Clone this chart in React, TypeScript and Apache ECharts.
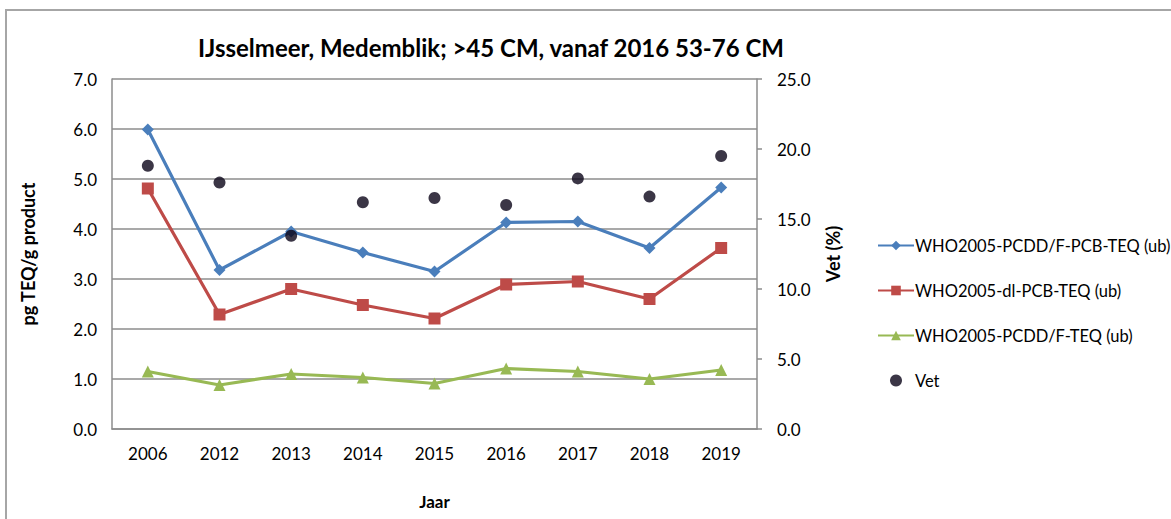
import React, { useEffect, useRef } from "react";
import * as echarts from "echarts";

const years = ["2006", "2012", "2013", "2014", "2015", "2016", "2017", "2018", "2019"];
const totalTeq = [5.99, 3.18, 3.95, 3.53, 3.15, 4.13, 4.15, 3.62, 4.83];
const dlPcbTeq = [4.81, 2.29, 2.8, 2.48, 2.21, 2.89, 2.95, 2.6, 3.62];
const pcddfTeq = [1.15, 0.88, 1.1, 1.03, 0.91, 1.21, 1.15, 1.0, 1.18];
const vet = [18.8, 17.6, 13.8, 16.2, 16.5, 16.0, 17.9, 16.6, 19.5];

const seriesNames = [
  "WHO2005-PCDD/F-PCB-TEQ (ub)",
  "WHO2005-dl-PCB-TEQ (ub)",
  "WHO2005-PCDD/F-TEQ (ub)",
  "Vet",
];
const titleText = "IJsselmeer, Medemblik; >45 CM, vanaf 2016 53-76 CM";

const FONT = "Lato, 'Open Sans', sans-serif";

export default function App() {
  const ref = useRef<HTMLDivElement>(null);
  useEffect(() => {
    if (!ref.current) return;
    const chart = echarts.init(ref.current, null, { renderer: "svg" });
    chart.setOption({
      animation: false,
      backgroundColor: "#ffffff",
      textStyle: { fontFamily: FONT, color: "#000" },
      graphic: [
        {
          type: "rect",
          shape: { x: 6, y: 10, width: 1300, height: 700 },
          style: { fill: "none", stroke: "#a6a6a6", lineWidth: 2 },
          silent: true,
        },
        {
          type: "text",
          x: 491,
          y: 47,
          style: {
            text: titleText,
            align: "center",
            verticalAlign: "middle",
            fontFamily: FONT,
            fontSize: 24,
            fontWeight: "bold",
            fill: "#000",
          },
        },
      ],
      grid: { left: 112, right: 414, top: 79, bottom: 90, containLabel: false },
      legend: {
        orient: "vertical",
        left: 872,
        top: 232,
        itemWidth: 36,
        itemHeight: 12,
        itemGap: 28,
        textStyle: { fontFamily: FONT, fontSize: 16.5, color: "#000", padding: [0, 0, 0, -4] },
        data: seriesNames,
      },
      xAxis: {
        type: "category",
        data: years,
        boundaryGap: true,
        name: "Jaar",
        nameLocation: "middle",
        nameGap: 64,
        nameTextStyle: { fontFamily: FONT, fontSize: 17, fontWeight: "bold", color: "#000" },
        axisLine: { lineStyle: { color: "#8c8c8c", width: 1.5 } },
        axisTick: { show: false },
        axisLabel: { fontFamily: FONT, fontSize: 17, color: "#000", margin: 16 },
      },
      yAxis: [
        {
          type: "value",
          min: 0,
          max: 7,
          interval: 1,
          name: "pg TEQ/g product",
          nameLocation: "middle",
          nameGap: 75,
          nameTextStyle: { fontFamily: FONT, fontSize: 18, fontWeight: "bold", color: "#000" },
          axisLine: { show: true, lineStyle: { color: "#8c8c8c", width: 1.5 } },
          axisTick: { show: false },
          splitLine: { lineStyle: { color: "#8c8c8c", width: 1.5 } },
          axisLabel: {
            fontFamily: FONT,
            fontSize: 17,
            color: "#000",
            margin: 15,
            formatter: (v: number) => v.toFixed(1),
          },
        },
        {
          type: "value",
          min: 0,
          max: 25,
          interval: 5,
          name: "Vet (%)",
          nameLocation: "middle",
          nameGap: 67,
          nameTextStyle: { fontFamily: FONT, fontSize: 18, fontWeight: "bold", color: "#000" },
          axisLine: { show: true, lineStyle: { color: "#8c8c8c", width: 1.5 } },
          axisTick: { show: true, length: 5, lineStyle: { color: "#8c8c8c", width: 1.5 } },
          splitLine: { show: false },
          axisLabel: {
            fontFamily: FONT,
            fontSize: 17,
            color: "#000",
            margin: 20,
            formatter: (v: number) => v.toFixed(1),
          },
        },
      ],
      series: [
        {
          name: seriesNames[0],
          type: "line",
          yAxisIndex: 0,
          data: totalTeq,
          symbol: "diamond",
          symbolSize: 12,
          itemStyle: { color: "#4a7ebb" },
          lineStyle: { color: "#4a7ebb", width: 3.2 },
          z: 3,
        },
        {
          name: seriesNames[1],
          type: "line",
          yAxisIndex: 0,
          data: dlPcbTeq,
          symbol: "rect",
          symbolSize: 12,
          itemStyle: { color: "#be4b48" },
          lineStyle: { color: "#be4b48", width: 3.2 },
          z: 3,
        },
        {
          name: seriesNames[2],
          type: "line",
          yAxisIndex: 0,
          data: pcddfTeq,
          symbol: "triangle",
          symbolSize: 12,
          itemStyle: { color: "#98b954" },
          lineStyle: { color: "#98b954", width: 3.2 },
          z: 3,
        },
        {
          name: seriesNames[3],
          type: "scatter",
          yAxisIndex: 1,
          data: vet,
          symbol: "circle",
          symbolSize: 12,
          itemStyle: { color: "#0a0418" },
          z: 4,
        },
      ],
    });
    return () => chart.dispose();
  }, []);
  return (
    <div
      ref={ref}
      style={{ position: "fixed", left: 0, top: 0, width: 1171, height: 519 }}
    />
  );
}
